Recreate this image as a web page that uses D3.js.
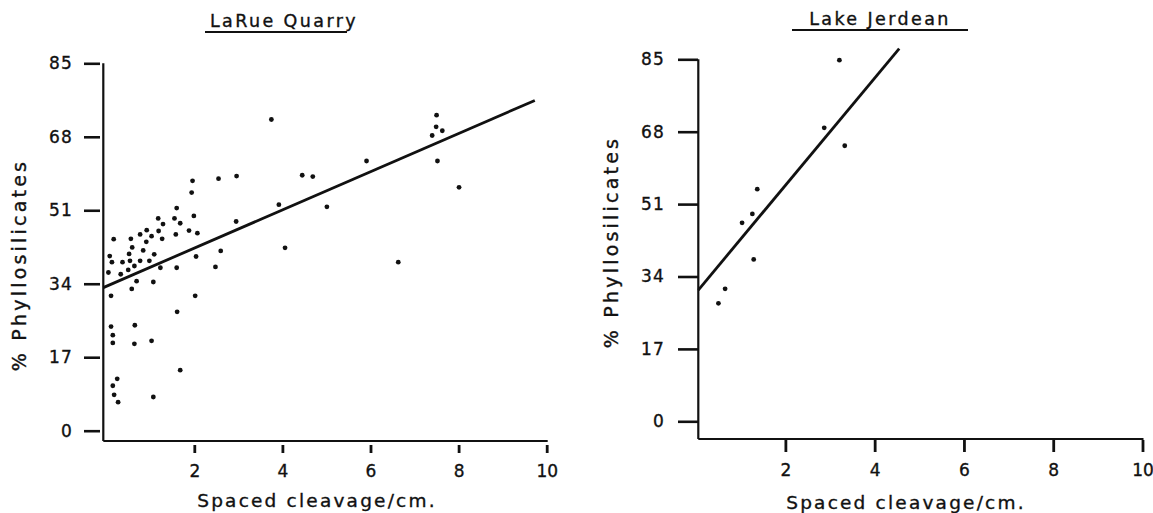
<!DOCTYPE html>
<html>
<head>
<meta charset="utf-8">
<script src="https://cdn.jsdelivr.net/npm/d3@7"></script>
<style>
body { margin: 0; background: #fff; }
text { font-family: "DejaVu Sans", sans-serif; fill: #111; stroke: #111; stroke-width: 0.35px; }
</style>
</head>
<body>
<div id="screen"></div>
<script>
//tick values on both axes
var xTicks = [2, 4, 6, 8, 10];
var yTicks = [0, 17, 34, 51, 68, 85];

//LaRue Quarry samples: spaced cleavage per cm, % phyllosilicates
var larueCleavage = [3.75, 1.96, 1.94, 2.55, 2.96, 3.92, 1.60, 1.55, 1.68, 1.88, 2.07, 1.99, 1.58, 1.18, 1.29, 1.19, 1.27, 0.92, 0.91, 0.77,
    0.84, 1.03, 1.09, 0.56, 0.59, 0.52, 0.54, 0.77, 0.98, 0.17, 0.08, 0.13, 0.37, 0.64, 2.95, 2.60, 2.04, 2.48, 1.60, 1.23,
    0.05, 0.33, 0.50, 0.11, 0.58, 0.69, 1.07, 2.02, 1.61, 0.11, 0.65, 0.15, 0.15, 0.64, 1.03, 1.68, 0.25, 0.15, 0.18, 0.27,
    1.07, 7.50, 7.49, 7.63, 7.40, 7.52, 5.91, 8.01, 4.45, 4.69, 5.01, 4.06, 6.63];
var laruePhyllo = [72.0, 57.8, 55.1, 58.3, 58.9, 52.3, 51.5, 49.1, 48.0, 46.3, 45.7, 49.7, 45.4, 49.1, 47.8, 46.2, 44.4, 46.4, 43.7, 45.4,
    41.7, 45.0, 40.8, 44.4, 42.4, 40.9, 39.3, 39.3, 39.3, 44.3, 40.4, 39.0, 39.0, 38.1, 48.4, 41.6, 40.3, 37.9, 37.7, 37.7,
    36.6, 36.2, 37.2, 31.2, 32.8, 34.6, 34.4, 31.2, 27.5, 24.1, 24.4, 22.1, 20.3, 20.1, 20.8, 14.0, 12.0, 10.4, 8.3, 6.6,
    7.8, 73.0, 70.3, 69.4, 68.3, 62.4, 62.4, 56.3, 59.1, 58.8, 51.8, 42.3, 39.0];
//regression line: intercept, slope, last x
var larueFit = [33.4, 4.42, 9.73];

//Lake Jerdean samples
var jerdeanCleavage = [3.21, 2.87, 3.33, 1.37, 1.26, 1.03, 1.29, 0.65, 0.50];
var jerdeanPhyllo = [84.8, 68.9, 64.7, 54.5, 48.7, 46.6, 38.0, 31.1, 27.7];
var jerdeanFit = [30.2, 12.6, 4.55];

var WIDTH = 1153;
var HEIGHT = 513;

var svg = d3.select("#screen")
    .append("svg")
    .attr("width", WIDTH)
    .attr("height", HEIGHT);

//draws one scatter panel with its axes, dots and fitted line
function drawPanel(p){
    var x = d3.scaleLinear().domain([0, 10]).range(p.xRange);
    var y = d3.scaleLinear().domain([0, 85]).range(p.yRange);
    var g = svg.append("g");

    //title, underlined
    g.append("text")
        .attr("x", p.titleX)
        .attr("y", p.titleY)
        .attr("text-anchor", "middle")
        .attr("font-size", 17.5)
        .attr("letter-spacing", 2.4)
        .text(p.title);
    g.append("line")
        .attr("x1", p.underline[0]).attr("x2", p.underline[1])
        .attr("y1", p.titleY + 5).attr("y2", p.titleY + 5)
        .attr("stroke", "#111").attr("stroke-width", 1.8);

    //y axis, ticks sit left of the line
    var yAxis = d3.axisLeft(y)
        .tickValues(yTicks)
        .tickSize(p.yTickLen)
        .tickPadding(p.yTickPad);
    var ya = g.append("g")
        .attr("transform", "translate(" + p.tickRight + ",0)")
        .call(yAxis);
    ya.select(".domain").remove();
    ya.selectAll(".tick line").attr("stroke", "#111").attr("stroke-width", 2.6);
    ya.selectAll(".tick text")
        .attr("font-size", 17)
        .attr("letter-spacing", 1.2)
        .attr("fill", "#111")
        .style("font-family", "DejaVu Sans");

    g.append("line")
        .attr("x1", p.axisX).attr("x2", p.axisX)
        .attr("y1", y(85)).attr("y2", p.axisY)
        .attr("stroke", "#111").attr("stroke-width", 2.2);

    //x axis
    g.append("line")
        .attr("x1", p.axisX).attr("x2", x(10) + 1)
        .attr("y1", p.axisY).attr("y2", p.axisY)
        .attr("stroke", "#111").attr("stroke-width", 2.2);
    var xAxis = d3.axisBottom(x)
        .tickValues(xTicks)
        .tickSize(p.xTickLen)
        .tickPadding(12);
    var xa = g.append("g")
        .attr("transform", "translate(0," + p.xTickTop + ")")
        .call(xAxis);
    xa.select(".domain").remove();
    xa.selectAll(".tick line").attr("stroke", "#111").attr("stroke-width", 2.8);
    xa.selectAll(".tick text")
        .attr("font-size", 17)
        .attr("fill", "#111")
        .style("font-family", "DejaVu Sans");

    //axis titles
    g.append("text")
        .attr("x", p.xTitle[0])
        .attr("y", p.xTitle[1])
        .attr("text-anchor", "middle")
        .attr("font-size", 18.5)
        .attr("letter-spacing", 2.2)
        .text("Spaced cleavage/cm.");
    g.append("text")
        .attr("transform", "translate(" + p.yTitle[0] + "," + p.yTitle[1] + ") rotate(-90)")
        .attr("text-anchor", "middle")
        .attr("dy", "0.35em")
        .attr("font-size", 19)
        .attr("letter-spacing", 3.2)
        .text("% Phyllosilicates");

    //regression line, starts at the y axis
    var x0 = x.invert(p.axisX);
    g.append("line")
        .attr("x1", x(x0)).attr("y1", y(p.fit[0] + p.fit[1] * x0))
        .attr("x2", x(p.fit[2])).attr("y2", y(p.fit[0] + p.fit[1] * p.fit[2]))
        .attr("stroke", "#111").attr("stroke-width", 2.8);

    //samples
    g.selectAll("circle")
        .data(p.xs.map(function(d, i){ return [d, p.ys[i]]; }))
        .enter()
        .append("circle")
        .attr("cx", d => x(d[0]))
        .attr("cy", d => y(d[1]))
        .attr("r", 2.4)
        .attr("fill", "#111");
}

drawPanel({
    title: "LaRue Quarry", titleX: 284, titleY: 27, underline: [205, 347],
    xRange: [106.2, 546.7], yRange: [430.7, 63.3],
    axisX: 103.3, axisY: 441, tickRight: 100, yTickLen: 16, yTickPad: 11,
    xTickTop: 445, xTickLen: 8,
    xTitle: [317, 507], yTitle: [19, 265],
    xs: larueCleavage, ys: laruePhyllo, fit: larueFit
});

drawPanel({
    title: "Lake Jerdean", titleX: 880, titleY: 25, underline: [792, 968],
    xRange: [696.1, 1142.5], yRange: [421.3, 59.3],
    axisX: 698.3, axisY: 439, tickRight: 698, yTickLen: 20, yTickPad: 13,
    xTickTop: 440, xTickLen: 12,
    xTitle: [906, 509], yTitle: [611, 242],
    xs: jerdeanCleavage, ys: jerdeanPhyllo, fit: jerdeanFit
});
</script>
</body>
</html>
